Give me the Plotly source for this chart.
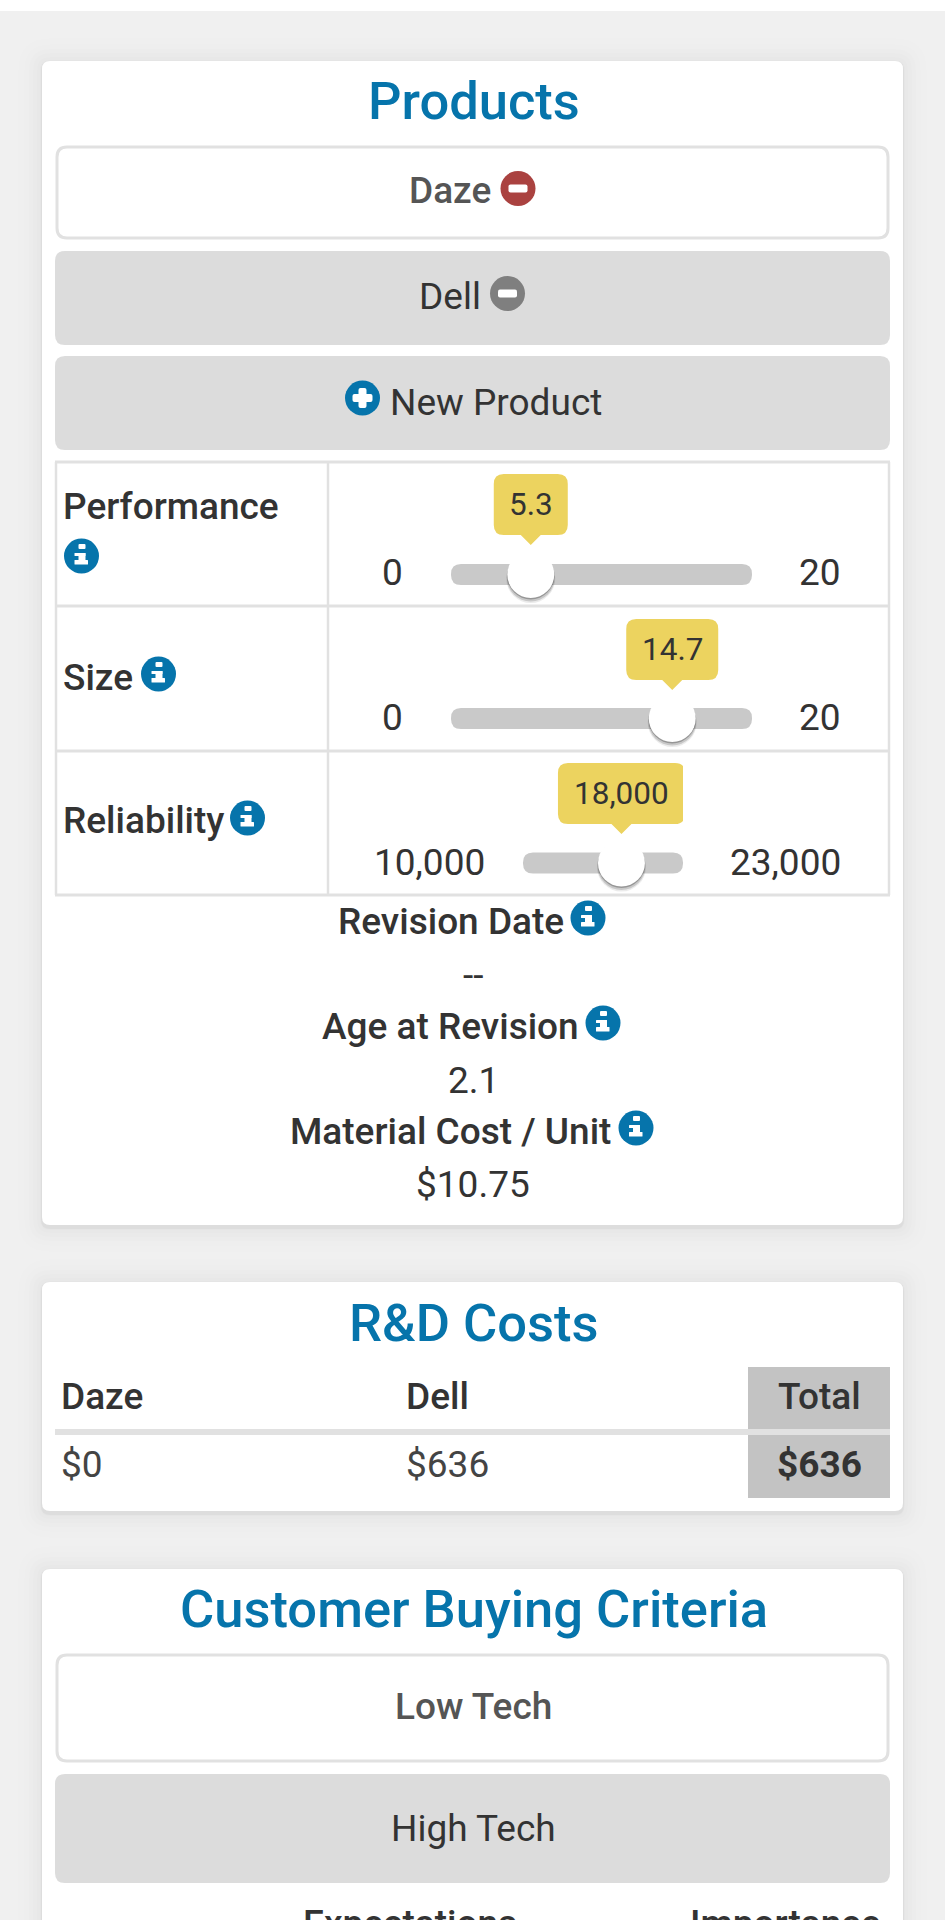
import plotly.graph_objects as go

# chart values
product_names = ["Daze", "Dell"]
new_product_label = "New Product"
slider_names = ["Performance", "Size", "Reliability"]
slider_values = [5.3, 14.7, 18000]
slider_mins = [0, 0, 10000]
slider_maxs = [20, 20, 23000]
slider_tips = ["5.3", "14.7", "18,000"]
slider_min_labels = ["0", "0", "10,000"]
slider_max_labels = ["20", "20", "23,000"]
info_names = ["Revision Date", "Age at Revision", "Material Cost / Unit"]
info_values = ["--", "2.1", "$10.75"]
rd_columns = ["Daze", "Dell", "Total"]
rd_costs = ["$0", "$636", "$636"]
segments = ["Low Tech", "High Tech"]
criteria_columns = ["Expectations", "Importance"]

BLUE = "#0674ab"
RED = "#aa4240"
GRAY_ICON = "#7f7f7f"
BTN_GRAY = "#dcdcdc"
LINE = "#e1e1e1"
DARK = "#333333"
MID = "#555555"
TIP = "#ecd35f"
TRACK = "#c9c9c9"
FONT = "Roboto"

shapes = []
notes = []


def round_path(x0, y0, x1, y1, r):
    return (f"M{x0+r},{y0} L{x1-r},{y0} Q{x1},{y0} {x1},{y0+r} L{x1},{y1-r} Q{x1},{y1} {x1-r},{y1} "
            f"L{x0+r},{y1} Q{x0},{y1} {x0},{y1-r} L{x0},{y0+r} Q{x0},{y0} {x0+r},{y0} Z")


def box(x0, y0, x1, y1, r, fill, line=None, width=0, opacity=1):
    shapes.append(dict(type="path", xref="x", yref="y", layer="below", path=round_path(x0, y0, x1, y1, r),
                       fillcolor=fill, opacity=opacity, line=dict(color=line or fill, width=width)))


def label(x, y, text, size, color=DARK, weight=400, anchor="center", xref="x", yanchor="middle"):
    notes.append(dict(x=x, y=y, xref=xref, yref="y", text=text, showarrow=False, xanchor=anchor, yanchor=yanchor,
                      borderpad=0, borderwidth=0,
                      font=dict(family=FONT, size=size, color=color, weight=weight)))


def card(x0, y0, x1, y1):
    # soft shadow, very faint in the reference
    for grow, op in [(24, 0.004), (18, 0.005), (13, 0.006), (9, 0.007), (5, 0.008), (2, 0.012), (1, 0.03)]:
        box(x0 - grow, y0 - grow + 1, x1 + grow, y1 + grow + 3, 8 + grow, "#000000", opacity=op)
    box(x0, y0, x1, y1, 8, "#ffffff")


def icon(cx, cy, color, kind):
    r = 17.5
    shapes.append(dict(type="circle", xref="x", yref="y", layer="below", x0=cx - r, x1=cx + r, y0=cy - r, y1=cy + r,
                       fillcolor=color, line=dict(width=0)))
    if kind == "minus":
        box(cx - 9.5, cy - 4, cx + 9.5, cy + 4, 2, "#ffffff")
    elif kind == "plus":
        box(cx - 10, cy - 4, cx + 10, cy + 4, 2, "#ffffff")
        box(cx - 4, cy - 10, cx + 4, cy + 10, 2, "#ffffff")
    else:
        box(cx - 3, cy - 12, cx + 4, cy - 7, 1, "#ffffff")
        box(cx - 7, cy - 3, cx + 4, cy + 0, 0.5, "#ffffff")
        box(cx - 3, cy - 3, cx + 4, cy + 8, 0.5, "#ffffff")
        box(cx - 7, cy + 4, cx + 6.5, cy + 8.5, 0.5, "#ffffff")


# page
box(-5, -5, 950, 11, 0, "#ffffff")
card(42, 61, 903, 1225)
card(42, 1282, 903, 1511)
card(42, 1569, 903, 1960)

# products card
label(474, 101, "Products", 52.5, BLUE, 500)
box(57, 147, 888, 238, 10, "#ffffff", LINE, 3)
label(450, 190, product_names[0], 37, MID, 500)
icon(518, 188.5, RED, "minus")
box(55, 251, 890, 345, 10, BTN_GRAY)
label(449.5, 296, product_names[1], 37, DARK)
icon(507.5, 293.5, GRAY_ICON, "minus")
box(55, 356, 890, 450, 10, BTN_GRAY)
icon(362.5, 398, BLUE, "plus")
label(496, 402, new_product_label, 37, DARK)

# slider table
for y in [462, 606, 751, 895]:
    shapes.append(dict(type="line", xref="x", yref="y", layer="below", x0=55, x1=890, y0=y, y1=y,
                       line=dict(color=LINE, width=3)))
for x in [56, 328, 889]:
    shapes.append(dict(type="line", xref="x", yref="y", layer="below", x0=x, x1=x, y0=462, y1=895,
                       line=dict(color=LINE, width=2.5)))

name_y = [506, 677, 820]
icon_xy = [(81.5, 556), (158.5, 674), (247.5, 818)]
track_x = [(451, 752), (451, 752), (523, 683)]
track_y = [574.5, 718.5, 863]
range_y = [572, 717, 862]
range_min_x = [392, 392, 429]
tip_top = [474, 619, 763]
tip_half = [37, 46, 63.5]

axes = {}
fig = go.Figure()
for i, name in enumerate(slider_names):
    ax = f"x{i + 2}"
    axes[f"xaxis{i + 2}"] = dict(domain=[track_x[i][0] / 945, track_x[i][1] / 945], range=[slider_mins[i], slider_maxs[i]],
                                 visible=False, anchor="y", fixedrange=True)
    label(63, name_y[i], name, 37, DARK, 500, "left")
    icon(icon_xy[i][0], icon_xy[i][1], BLUE, "info")
    box(track_x[i][0], track_y[i] - 10.5, track_x[i][1], track_y[i] + 10.5, 10, TRACK)
    label(range_min_x[i], range_y[i], slider_min_labels[i], 37)
    label(841, range_y[i], slider_max_labels[i], 37, anchor="right")

    # tooltip is anchored to the value on the slider axis
    h = tip_half[i]
    t = tip_top[i]
    shapes.append(dict(type="path", xref=ax, yref="y", layer="above", xsizemode="pixel", xanchor=slider_values[i],
                       path=(f"M{-h+10},{t} L{h-10},{t} Q{h},{t} {h},{t+10} L{h},{t+51} Q{h},{t+61} {h-10},{t+61} "
                             f"L10,{t+61} L0,{t+71} L-10,{t+61} L{-h+10},{t+61} Q{-h},{t+61} {-h},{t+51} "
                             f"L{-h},{t+10} Q{-h},{t} {-h+10},{t} Z"),
                       fillcolor=TIP, line=dict(width=0)))
    label(slider_values[i], t + 30, slider_tips[i], 31.5, DARK, xref=ax)

    for off, size, op in [(4, 49, 0.08), (3, 48, 0.15), (1.5, 47, 0.25)]:
        fig.add_trace(go.Scatter(x=[slider_values[i]], y=[track_y[i] + off], xaxis=ax, yaxis="y", mode="markers",
                                 marker=dict(size=size, color="#000000", opacity=op), cliponaxis=False,
                                 hoverinfo="skip", showlegend=False))
    fig.add_trace(go.Scatter(x=[slider_values[i]], y=[track_y[i]], xaxis=ax, yaxis="y", mode="markers",
                             marker=dict(size=47, color="#ffffff", line=dict(width=0)), cliponaxis=False,
                             hoverinfo="skip", showlegend=False))

# stats under the table
stat_head_y = [921, 1026, 1131]
stat_icon_x = [588, 603, 636]
stat_val_y = [975, 1080, 1184]
stat_text_x = [451, 450, 450.5]
for i, name in enumerate(info_names):
    label(stat_text_x[i], stat_head_y[i], name, 37, DARK, 500)
    icon(stat_icon_x[i], stat_head_y[i] - 3, BLUE, "info")
    label(473, stat_val_y[i], info_values[i], 37)

# R&D card
label(474, 1323, "R&D Costs", 52.5, BLUE, 500)
box(748, 1367, 890, 1498, 0, "#c3c3c3")
shapes.append(dict(type="line", xref="x", yref="y", layer="below", x0=55, x1=890, y0=1432, y1=1432,
                   line=dict(color=LINE, width=6)))
rd_x = [61, 406]
for i in range(2):
    label(rd_x[i], 1396, rd_columns[i], 37, DARK, 500, "left")
    label(rd_x[i], 1464, rd_costs[i], 37, "#444444", 400, "left")
label(819.5, 1396, rd_columns[2], 37, DARK, 500)
label(819.5, 1464, rd_costs[2], 37, DARK, 700)

# customer buying criteria card
label(473.5, 1609, "Customer Buying Criteria", 52.5, BLUE, 500)
box(57, 1655, 888, 1761, 10, "#ffffff", LINE, 3)
label(473, 1706, segments[0], 37, MID, 500)
box(55, 1774, 890, 1883, 10, BTN_GRAY)
label(473, 1828, segments[1], 37, DARK)
# these two headers are cut off by the bottom of the picture
label(409.5, 1902, criteria_columns[0], 37, DARK, 500, yanchor="top")
label(785, 1902, criteria_columns[1], 37, DARK, 500, yanchor="top")

fig.update_layout(
    width=945, height=1920, margin=dict(l=0, r=0, t=0, b=0),
    paper_bgcolor="#f0f0f0", plot_bgcolor="rgba(0,0,0,0)", showlegend=False,
    xaxis=dict(range=[0, 945], visible=False, fixedrange=True),
    yaxis=dict(range=[1920, 0], visible=False, fixedrange=True),
    shapes=shapes, annotations=notes, **axes)

fig.write_html("out.html", config={"displayModeBar": False},
               post_script="document.body.style.margin='0';document.body.style.overflow='hidden';")
